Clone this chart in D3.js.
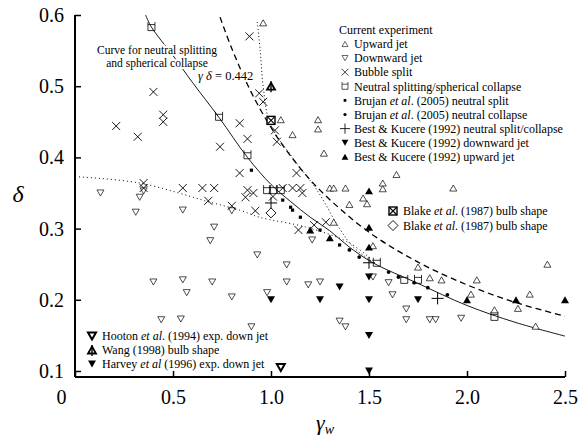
<!DOCTYPE html>
<html>
<head>
<meta charset="utf-8">
<script src="https://cdn.jsdelivr.net/npm/d3@7"></script>
<style>
  body { margin: 0; background: #fff; }
  text { font-family: "Liberation Serif", "Times New Roman", serif; fill: #000; }
</style>
</head>
<body>
<div class="chart"></div>
<script>
// tick values
const xTicks = [0, 0.5, 1.0, 1.5, 2.0, 2.5]
const yTicks = [0.1, 0.2, 0.3, 0.4, 0.5, 0.6]

// [gamma_w, delta] pairs
const upwardJet = [[0.96,0.589],[1.05,0.453],[1.24,0.453],[1.24,0.440],[1.11,0.432],[1.27,0.406],[1.30,0.357],[1.32,0.357],
  [1.38,0.357],[1.40,0.334],[1.47,0.343],[1.49,0.335],[1.57,0.364],[1.57,0.356],[1.64,0.376],[1.93,0.357],[1.32,0.309],
  [1.52,0.276],[1.75,0.246],[1.81,0.231],[1.87,0.228],[2.05,0.228],[2.02,0.208],[2.41,0.250],[2.32,0.208],[2.26,0.188],
  [2.14,0.186],[2.35,0.163]]
const downwardJet = [[0.13,0.350],[0.33,0.344],[0.35,0.353],[0.31,0.323],[0.55,0.326],[0.71,0.302],[0.69,0.283],[0.80,0.325],
  [0.93,0.263],[0.40,0.225],[0.55,0.228],[0.70,0.225],[0.57,0.210],[0.80,0.204],[0.44,0.172],[0.54,0.173],[0.90,0.162],
  [0.98,0.210],[1.35,0.170],[1.38,0.162],[1.08,0.225],[1.19,0.221],[1.25,0.225],[1.60,0.224],[1.62,0.207],[1.69,0.187],
  [1.69,0.172],[1.81,0.172],[1.84,0.172],[1.08,0.249],[1.21,0.284],[1.52,0.232],[1.97,0.174]]
const bubbleSplit = [[0.89,0.570],[0.40,0.492],[0.21,0.444],[0.32,0.429],[0.45,0.460],[0.45,0.450],[0.84,0.448],[0.88,0.426],
  [0.74,0.415],[0.84,0.378],[0.35,0.364],[0.35,0.357],[0.55,0.357],[0.65,0.357],[0.71,0.357],[0.68,0.339],[0.80,0.332],
  [0.87,0.344],[0.88,0.354],[0.91,0.350],[0.92,0.325],[0.94,0.490],[0.96,0.478],[1.02,0.438],[1.03,0.422],[1.06,0.357],
  [1.11,0.357],[1.15,0.357],[1.16,0.350],[1.13,0.378],[1.28,0.309],[1.14,0.298],[1.01,0.345],[1.22,0.305]]
const neutral = [[0.39,0.583],[0.735,0.457],[0.88,0.403],[0.98,0.354],[1.01,0.354],[1.05,0.354],[1.54,0.252],[1.68,0.228],
  [1.75,0.228],[2.14,0.176]]
const brujanSplit = [[0.90,0.382],[1.06,0.340],[1.10,0.330],[1.11,0.326],[1.15,0.316],[1.25,0.298],[1.35,0.277]]
const brujanCollapse = [[1.40,0.270],[1.45,0.260],[1.60,0.239],[1.65,0.232],[1.73,0.224],[1.80,0.217],[1.90,0.207]]
const bestNeutral = [[1.0,0.336],[1.5,0.252],[1.85,0.202]]
const bestDown = [[1.0,0.2],[1.25,0.2],[1.5,0.2],[1.75,0.2],[1.5,0.15],[1.5,0.232],[1.35,0.218]]
const bestUp = [[1.5,0.353],[1.5,0.302],[1.5,0.274],[1.20,0.298],[1.30,0.287],[2.0,0.2],[2.25,0.2],[2.5,0.2]]
const blakeBulb = [[1.0,0.452]]
const blakeDiamond = [[1.0,0.322]]
const wang = [[1.0,0.500]]
const hooton = [[1.05,0.105]]
const harvey = [[1.5,0.1]]

// curves
const neutralCurve = [[0.36,0.600],[0.39,0.583],[0.5,0.543],[0.6,0.505],[0.735,0.456],[0.88,0.400],[1.0,0.362],[1.1,0.338],
  [1.2,0.316],[1.3,0.297],[1.4,0.274],[1.52,0.252],[1.75,0.223],[2.0,0.192],[2.25,0.168],[2.5,0.149]]
const dashedCurve = [[0.74,0.597],[0.8,0.553],[0.9,0.491],[1.0,0.442],[1.1,0.402],[1.25,0.354],[1.5,0.295],[1.75,0.253],
  [2.0,0.221],[2.25,0.196],[2.5,0.177]]
const steepDotted = [[0.93,0.590],[0.945,0.550],[0.96,0.500],[0.995,0.448],[1.12,0.396],[1.235,0.354],[1.35,0.300],
  [1.42,0.274],[1.52,0.253]]
const shallowDotted = [[0.0,0.373],[0.33,0.364],[0.69,0.337],[0.84,0.326],[0.94,0.316],[1.18,0.302],[1.40,0.280],[1.52,0.255]]

const serif = '"Liberation Serif", "Times New Roman", serif'
const width = 587, height = 439
const svg = d3.select('.chart').append('svg').attr('width', width).attr('height', height)
  .style('font-family', serif)

const x = d3.scaleLinear().domain([0, 2.5]).range([75, 565])
const y = d3.scaleLinear().domain([0.6 - 362 / 712, 0.6]).range([377, 15])

// axes: inward ticks, only left and bottom spines
const xAxis = d3.axisBottom(x).tickValues(xTicks).tickSize(-6).tickPadding(16)
  .tickFormat((d, i) => i === 0 ? '0' : d3.format('.1f')(d))
const gx = svg.append('g').attr('transform', `translate(0,${y.range()[0]})`).call(xAxis)
gx.select('.domain').attr('d', `M${x(0)},0H${x(2.5)}`).attr('stroke-width', 2)
gx.selectAll('.tick line').attr('stroke-width', 1.5)
gx.selectAll('.tick text').attr('font-size', 20).attr('dy', '0.55em')
gx.selectAll('.tick text').filter(d => d === 0).attr('dx', -14)

const yAxis = d3.axisLeft(y).tickValues(yTicks).tickSize(-6).tickPadding(11).tickFormat(d3.format('.1f'))
const gy = svg.append('g').attr('transform', `translate(${x(0)},0)`).call(yAxis)
gy.select('.domain').attr('d', `M0,${y(0.6)}V${y.range()[0]}`).attr('stroke-width', 2)
gy.selectAll('.tick line').attr('stroke-width', 1.5)
gy.selectAll('.tick text').attr('font-size', 20)
svg.selectAll('.tick text').style('font-family', serif)
gx.attr('font-family', null); gy.attr('font-family', null)

// axis titles
svg.append('text').attr('x', 325).attr('y', 430).attr('text-anchor', 'middle').attr('font-size', 22)
  .attr('font-style', 'italic').text('γ')
  .append('tspan').attr('font-size', 14).attr('dy', 4).text('w')
svg.append('text').attr('x', 18).attr('y', 202).attr('text-anchor', 'middle').attr('font-size', 24)
  .attr('font-style', 'italic').text('δ')

// curves
const line = d3.line().x(d => x(d[0])).y(d => y(d[1])).curve(d3.curveCatmullRom)
const curves = svg.append('g').attr('fill', 'none').attr('stroke', '#000')
curves.append('path').attr('d', line(neutralCurve)).attr('stroke-width', 0.9)
curves.append('path').attr('d', line(dashedCurve)).attr('stroke-width', 1.3).attr('stroke-dasharray', '6,4')
curves.append('path').attr('d', line(steepDotted)).attr('stroke-width', 1).attr('stroke-dasharray', '1,2.5')
curves.append('path').attr('d', line(shallowDotted)).attr('stroke-width', 1).attr('stroke-dasharray', '1,3')

// marker shapes
function tri(s, down) {
  const h = s * 0.87
  return down
    ? `M0,${h / 2}L${s / 2},${-h / 2}L${-s / 2},${-h / 2}Z`
    : `M0,${-h / 2}L${s / 2},${h / 2}L${-s / 2},${h / 2}Z`
}
const markers = {
  up: g => g.append('path').attr('d', tri(7, false)).attr('fill', '#fff').attr('stroke', '#000').attr('stroke-width', 0.7),
  down: g => g.append('path').attr('d', tri(7, true)).attr('fill', '#fff').attr('stroke', '#000').attr('stroke-width', 0.7),
  cross: g => g.append('path').attr('d', 'M-4,-4L4,4M-4,4L4,-4').attr('stroke', '#000').attr('stroke-width', 0.9),
  neutral: g => g.append('path').attr('d', 'M-3.5,-5V3.5H3.5V-5M-3.5,-2.5H3.5').attr('fill', 'none').attr('stroke', '#000').attr('stroke-width', 0.8),
  bSplit: g => g.append('rect').attr('x', -1.6).attr('y', -1.6).attr('width', 3.2).attr('height', 3.2).attr('fill', '#000'),
  bCollapse: g => g.append('circle').attr('r', 1.9).attr('fill', '#000'),
  plus: g => g.append('path').attr('d', 'M-6,0H6M0,-6V6').attr('stroke', '#000').attr('stroke-width', 1),
  fDown: g => g.append('path').attr('d', tri(8, true)).attr('fill', '#000'),
  fUp: g => g.append('path').attr('d', tri(8, false)).attr('fill', '#000'),
  bulb: g => {
    g.append('rect').attr('x', -4).attr('y', -4).attr('width', 8).attr('height', 8).attr('fill', '#fff').attr('stroke', '#000').attr('stroke-width', 1.4)
    g.append('path').attr('d', 'M-4,-4L4,4M-4,4L4,-4').attr('stroke', '#000').attr('stroke-width', 1.1)
  },
  diamond: g => g.append('path').attr('d', 'M0,-5L5,0L0,5L-5,0Z').attr('fill', '#fff').attr('stroke', '#000').attr('stroke-width', 0.9),
  hooton: g => g.append('path').attr('d', tri(8, true)).attr('fill', '#fff').attr('stroke', '#000').attr('stroke-width', 2),
  wang: g => {
    g.append('path').attr('d', tri(8, false)).attr('fill', '#fff').attr('stroke', '#000').attr('stroke-width', 1.8)
    g.append('path').attr('d', 'M0,-5V6').attr('stroke', '#000').attr('stroke-width', 1.4)
  },
  harvey: g => g.append('path').attr('d', tri(8, true)).attr('fill', '#000')
}

const series = [
  [downwardJet, 'down'], [upwardJet, 'up'], [bubbleSplit, 'cross'], [neutral, 'neutral'],
  [brujanSplit, 'bSplit'], [brujanCollapse, 'bCollapse'], [bestDown, 'fDown'], [bestUp, 'fUp'],
  [bestNeutral, 'plus'], [blakeDiamond, 'diamond'], [blakeBulb, 'bulb'], [wang, 'wang'],
  [hooton, 'hooton'], [harvey, 'harvey']
]
const pts = svg.append('g')
series.forEach(([data, type]) => {
  data.forEach(d => {
    const g = pts.append('g').attr('transform', `translate(${x(d[0])},${y(d[1])})`)
    markers[type](g)
  })
})

// text with *italic* parts
function richText(sel, str) {
  str.split('*').forEach((part, i) => {
    if (part) sel.append('tspan').attr('font-style', i % 2 ? 'italic' : 'normal').text(part)
  })
}

// annotations (white halo hides the curves behind the words)
const ann = svg.append('g').attr('font-size', 11.5).attr('text-anchor', 'middle')
  .attr('stroke', '#fff').attr('stroke-width', 4).attr('paint-order', 'stroke')
ann.append('text').attr('x', 157).attr('y', 54).text('Curve for neutral splitting')
ann.append('text').attr('x', 157).attr('y', 67).text('and spherical collapse')
const gd = svg.append('text').attr('x', 198).attr('y', 80).attr('font-size', 12.5)
  .attr('stroke', '#fff').attr('stroke-width', 3).attr('paint-order', 'stroke')
gd.append('tspan').attr('font-style', 'italic').text('γ δ')
gd.append('tspan').text(' = 0.442')

// legends
const legendMain = [
  ['up', 'Upward jet'], ['down', 'Downward jet'], ['cross', 'Bubble split'],
  ['neutral', 'Neutral splitting/spherical collapse'],
  ['bSplit', 'Brujan *et al*. (2005) neutral split'], ['bCollapse', 'Brujan *et al*. (2005) neutral collapse'],
  ['plus', 'Best & Kucere (1992) neutral split/collapse'], ['fDown', 'Best & Kucere (1992) downward jet'],
  ['fUp', 'Best & Kucere (1992) upward jet']
]
const legendBlake = [['bulb', 'Blake *et al*. (1987) bulb shape'], ['diamond', 'Blake *et al*. (1987) bulb shape']]
const legendLower = [
  ['hooton', 'Hooton *et al*. (1994) exp. down jet'], ['wang', 'Wang (1998) bulb shape'],
  ['harvey', 'Harvey *et al*  (1996) exp. down jet']
]

function legend(items, sx, tx, y0, dy, scale) {
  const g = svg.append('g').attr('font-size', 12)
  items.forEach(([type, label], i) => {
    const yy = y0 + i * dy
    const m = g.append('g').attr('transform', `translate(${sx},${yy}) scale(${scale})`)
    markers[type](m)
    const t = g.append('text').attr('x', tx).attr('y', yy).attr('dy', '0.35em')
    richText(t, label)
  })
  return g
}
svg.append('text').attr('x', 339).attr('y', 34).attr('font-size', 12).text('Current experiment')
legend(legendMain, 345, 354, 44, 14.1, 0.85)
legend(legendBlake, 393, 403, 211, 14.5, 1)
legend(legendLower, 92, 102, 336, 14, 1)
</script>
</body>
</html>
